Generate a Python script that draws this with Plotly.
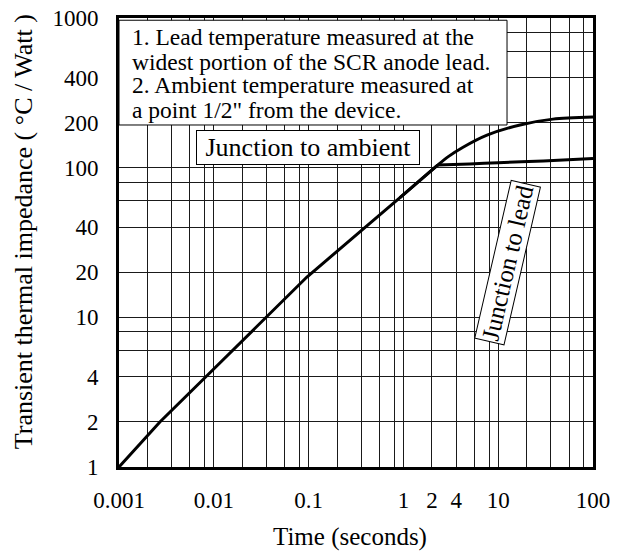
import plotly.graph_objects as go

# ---- data ----
t_common = [0.001, 0.0027, 0.0079, 0.036, 0.096, 0.92, 2.3]
z_common = [1, 2, 3.9, 10, 18.6, 63, 104]
t_ambient = [3.0, 4.26, 7.62, 17, 37.8, 100]
z_ambient = [119, 137, 165, 193, 211, 218]
t_lead = [5, 10, 30, 100]
z_lead = [106, 108, 111, 115]

x_decades = [0.001, 0.01, 0.1, 1, 10, 100]
x_grid_steps = [2, 3.6, 5.6, 8]
x_labels = {0.001: "0.001", 0.01: "0.01", 0.1: "0.1", 1: "1", 2: "2", 3.6: "4", 10: "10", 100: "100"}

y_decades = [1, 10, 100, 1000]
y_grid_steps = [2, 4, 6, 8]
y_labels = {1: "1", 2: "2", 4: "4", 10: "10", 20: "20", 40: "40",
            100: "100", 200: "200", 400: "400", 1000: "1000"}

notes = ["1. Lead temperature measured at the",
         "widest portion of the SCR anode lead.",
         "2. Ambient temperature measured at",
         "a point 1/2\" from the device."]

SERIF = "Liberation Serif, Times New Roman, serif"


def grid_values(decades, steps):
    vals = []
    for i, d in enumerate(decades):
        vals.append(d)
        if i < len(decades) - 1:
            vals += [d * s for s in steps]
    return vals


xv = grid_values(x_decades, x_grid_steps)
xt = [x_labels.get(round(v, 6), "") for v in xv]
yv = grid_values(y_decades, y_grid_steps)
yt = [y_labels.get(round(v, 6), "") for v in yv]

fig = go.Figure()
fig.add_trace(go.Scatter(x=t_common, y=z_common, mode="lines",
                         line=dict(color="black", width=3), hoverinfo="skip"))
fig.add_trace(go.Scatter(x=t_common[-2:] + t_ambient, y=z_common[-2:] + z_ambient, mode="lines",
                         line=dict(color="black", width=3, shape="spline", smoothing=0.8),
                         hoverinfo="skip"))
fig.add_trace(go.Scatter(x=t_common[-1:] + t_lead, y=z_common[-1:] + z_lead, mode="lines",
                         line=dict(color="black", width=3, shape="spline", smoothing=0.6),
                         hoverinfo="skip"))

axis_common = dict(type="log", tickmode="array", showgrid=True, gridcolor="#1a1a1a",
                   gridwidth=1, showline=True, linecolor="black", linewidth=3,
                   mirror=True, ticks="", zeroline=False, automargin=False,
                   ticklabeloverflow="allow",
                   tickfont=dict(family=SERIF, size=23, color="black"))
fig.update_xaxes(range=[-3, 2], tickvals=xv, ticktext=xt, ticklabelstandoff=10, **axis_common)
fig.update_yaxes(range=[0, 3], tickvals=yv, ticktext=yt, ticklabelstandoff=13, **axis_common)

# notes box covering the grid
fig.add_shape(type="rect", xref="paper", yref="paper", x0=0, x1=0.8186, y0=0.7617, y1=0.995,
              fillcolor="white", line=dict(color="black", width=1), layer="above")

note_y = [0.9577, 0.903, 0.8505, 0.795]
for txt, yy in zip(notes, note_y):
    fig.add_annotation(text=txt, xref="paper", yref="paper", x=0.0232, y=yy,
                       xanchor="left", yanchor="middle", showarrow=False,
                       font=dict(family=SERIF, size=23.5, color="black"))

fig.add_annotation(text="\u00a0Junction to ambient\u00a0", xref="paper", yref="paper", x=0.3987, y=0.7105,
                   xanchor="center", yanchor="middle", showarrow=False,
                   font=dict(family=SERIF, size=26, color="black"),
                   bgcolor="white", bordercolor="black", borderwidth=1, borderpad=2)

fig.add_annotation(text="Junction to lead", xref="paper", yref="paper", x=0.8186, y=0.4543,
                   xanchor="center", yanchor="middle", showarrow=False, textangle=-77,
                   font=dict(family=SERIF, size=25, color="black"),
                   bgcolor="white", bordercolor="black", borderwidth=1, borderpad=1)

fig.add_annotation(text="Transient thermal impedance ( \u00b0C / Watt )", xref="paper", yref="paper",
                   x=-0.2025, y=0.523, xanchor="center", yanchor="middle", showarrow=False,
                   textangle=-90, font=dict(family=SERIF, size=26, color="black"))
fig.add_annotation(text="Time (seconds)", xref="paper", yref="paper",
                   x=0.487, y=-0.156, xanchor="center", yanchor="middle", showarrow=False,
                   font=dict(family=SERIF, size=25, color="black"))

# page body has an 8px margin: size and margins compensate so the plot lands in place
fig.update_layout(width=610, height=546, margin=dict(l=111, r=25, t=10, b=87),
                  plot_bgcolor="white", paper_bgcolor="white", showlegend=False,
                  font=dict(family=SERIF, size=22, color="black"))

fig.write_html("out.html")
